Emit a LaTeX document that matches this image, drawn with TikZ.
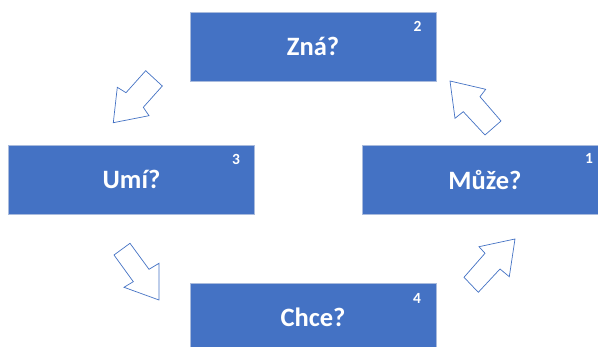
\documentclass[tikz,border=0pt]{standalone}
\usepackage{fontspec}
\setmainfont{Carlito}
\definecolor{boxblue}{HTML}{4472C4}
\definecolor{boxedge}{HTML}{A9BBDD}
\tikzset{
  stage/.style={rectangle, fill=boxblue, draw=boxedge, line width=0.8pt, minimum width=246pt, minimum height=69pt, text=white, font=\bfseries\fontsize{26.5}{28}\selectfont},
  stagenum/.style={text=white, font=\bfseries\fontsize{15.5}{17}\selectfont, inner sep=0pt},
  flow/.style={draw=boxblue, fill=white, line width=0.7pt, line join=miter}
}
\begin{document}
\begin{tikzpicture}[x=1pt, y=-1pt]
\useasboundingbox (0,0) rectangle (598,347);
\clip (0,0) rectangle (598,347);
\node[stage] (zna) at (313,46.5){Zná?};
\node[stage] (umi) at (131.5,179.5){Umí?};
\node[stage] (muze) at (485,179.5){Může?};
\node[stage] (chce) at (313,317.5){Chce?};
\node[stagenum] (num2) at (417.5,26){2};
\node[stagenum] (num3) at (236,159){3};
\node[stagenum] (num1) at (589,158){1};
\node[stagenum] (num4) at (417,298){4};
% Zna -> Umi
\draw[flow] (145.7,70.7) -- (162.3,86) -- (143.3,107.3) -- (149,115.7) -- (113.3,122.7) -- (117.3,87.3) -- (126,92.7) -- cycle;
% Umi -> Chce
\draw[flow] (130,243.3) -- (114,255) -- (133.3,281.7) -- (124,287.3) -- (159,300) -- (159,263.3) -- (149,269.3) -- cycle;
% Chce -> Muze
\draw[flow] (515,239) -- (479,246.7) -- (485,253.3) -- (464,277.3) -- (478.3,292.3) -- (500,269) -- (509.3,276.7) -- cycle;
% Muze -> Zna
\draw[flow] (450,81) -- (485.7,89.3) -- (480,96.7) -- (501,121) -- (485,135) -- (463.3,111.7) -- (455,118.3) -- cycle;
\end{tikzpicture}
\end{document}
